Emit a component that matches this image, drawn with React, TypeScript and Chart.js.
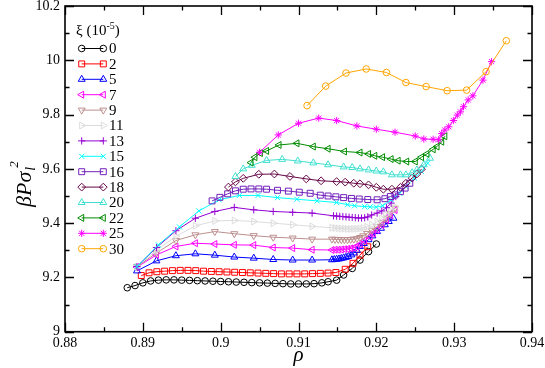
import React, { useEffect, useRef } from 'react';
import { Chart, registerables } from 'chart.js';

Chart.register(...registerables);

// ---- data ----
const xiLabels = ['0', '2', '5', '7', '9', '11', '13', '15', '16', '18', '20', '22', '25', '30'];

const gridX = [0.88925, 0.89175, 0.89425, 0.89675, 0.89925, 0.90175, 0.90425, 0.90675, 0.90925, 0.91175];

const xi0X = [0.888, 0.889, 0.890, 0.891, 0.892, 0.893, 0.894, 0.895, 0.896, 0.897, 0.898, 0.899, 0.900, 0.901, 0.902, 0.903, 0.904, 0.905, 0.906, 0.907, 0.908, 0.909, 0.910, 0.911, 0.912, 0.913, 0.9138, 0.9149, 0.9158, 0.9169, 0.9179, 0.919, 0.920];
const xi0Y = [9.162, 9.170, 9.180, 9.187, 9.190, 9.191, 9.191, 9.190, 9.189, 9.188, 9.187, 9.186, 9.185, 9.184, 9.183, 9.182, 9.181, 9.180, 9.179, 9.178, 9.177, 9.176, 9.176, 9.176, 9.177, 9.180, 9.184, 9.190, 9.209, 9.233, 9.264, 9.295, 9.323];

const xi2X = [0.8898, 0.8908, 0.8918, 0.8928, 0.8938, 0.8948, 0.8958, 0.8968, 0.8978, 0.8988, 0.8998, 0.9008, 0.9018, 0.9028, 0.9038, 0.9048, 0.9058, 0.9068, 0.9078, 0.9088, 0.9098, 0.9108, 0.9118, 0.9128, 0.9138, 0.9148, 0.916, 0.917, 0.9179, 0.9189];
const xi2Y = [9.207, 9.217, 9.221, 9.223, 9.225, 9.226, 9.226, 9.225, 9.223, 9.222, 9.221, 9.220, 9.219, 9.218, 9.217, 9.216, 9.215, 9.214, 9.213, 9.213, 9.213, 9.213, 9.214, 9.215, 9.216, 9.218, 9.230, 9.252, 9.282, 9.313];

const xi5X = [...gridX, 0.9143, 0.9146, 0.9149, 0.9152, 0.9155, 0.9158, 0.9161, 0.9164, 0.9168, 0.9171, 0.9175, 0.9179, 0.9184, 0.919, 0.9195, 0.9201, 0.9206, 0.9211, 0.9216, 0.9222];
const xi5Y = [9.224, 9.261, 9.28, 9.287, 9.282, 9.275, 9.271, 9.266, 9.264, 9.264, 9.265, 9.266, 9.267, 9.268, 9.27, 9.272, 9.274, 9.277, 9.283, 9.29, 9.30, 9.314, 9.325, 9.339, 9.353, 9.369, 9.381, 9.394, 9.406, 9.418];

const xi7X = [...gridX, 0.9143, 0.9147, 0.9151, 0.9155, 0.9159, 0.9163, 0.9167, 0.9171, 0.9175, 0.9179, 0.9185, 0.9192, 0.9196, 0.9201, 0.9207, 0.9213, 0.9218, 0.9224];
const xi7Y = [9.238, 9.283, 9.314, 9.326, 9.323, 9.32, 9.319, 9.31, 9.308, 9.302, 9.301, 9.302, 9.302, 9.303, 9.304, 9.305, 9.307, 9.309, 9.313, 9.322, 9.336, 9.35, 9.362, 9.375, 9.393, 9.411, 9.43, 9.448];

const xi9X = [...gridX, 0.9143, 0.9147, 0.9151, 0.9155, 0.9159, 0.9163, 0.9167, 0.9171, 0.9175, 0.9179, 0.9183, 0.9188, 0.9194, 0.9201, 0.9207, 0.9213, 0.9218, 0.9224];
const xi9Y = [9.24, 9.29, 9.336, 9.357, 9.369, 9.361, 9.354, 9.348, 9.345, 9.341, 9.341, 9.34, 9.34, 9.339, 9.339, 9.339, 9.34, 9.341, 9.343, 9.347, 9.353, 9.362, 9.374, 9.387, 9.402, 9.418, 9.436, 9.455];

const xi11X = [...gridX, 0.9143, 0.9147, 0.9151, 0.9155, 0.9159, 0.9163, 0.9167, 0.9171, 0.9175, 0.9179, 0.9183, 0.9188, 0.9194, 0.9201, 0.9207, 0.9212, 0.9218, 0.9224];
const xi11Y = [9.24, 9.30, 9.352, 9.39, 9.408, 9.41, 9.406, 9.40, 9.394, 9.388, 9.383, 9.382, 9.381, 9.38, 9.38, 9.379, 9.379, 9.379, 9.379, 9.38, 9.382, 9.386, 9.394, 9.405, 9.417, 9.43, 9.445, 9.46];

const xi13X = [...gridX, 0.9145, 0.9149, 0.9153, 0.9157, 0.9161, 0.9165, 0.9169, 0.9173, 0.9177, 0.9181, 0.9185, 0.9189, 0.9194, 0.9201, 0.9207, 0.9213, 0.9219, 0.9225];
const xi13Y = [9.24, 9.31, 9.372, 9.418, 9.443, 9.458, 9.449, 9.443, 9.44, 9.437, 9.427, 9.426, 9.425, 9.424, 9.423, 9.422, 9.421, 9.42, 9.419, 9.419, 9.42, 9.423, 9.43, 9.437, 9.445, 9.457, 9.474, 9.498];

const xi15X = [0.88925, 0.8920, 0.8947, 0.8972, 0.8998, 0.9024, 0.9048, 0.9073, 0.9098, 0.9124, 0.9149, 0.9163, 0.9172, 0.9185, 0.9192, 0.92, 0.9208, 0.9219, 0.923, 0.9238, 0.9249, 0.9258, 0.9266];
const xi15Y = [9.24, 9.32, 9.386, 9.445, 9.486, 9.502, 9.502, 9.494, 9.488, 9.482, 9.476, 9.468, 9.464, 9.461, 9.46, 9.459, 9.464, 9.486, 9.51, 9.535, 9.566, 9.59, 9.621];

const xi16X = [0.8989, 0.8999, 0.9009, 0.9019, 0.9029, 0.9039, 0.9049, 0.9059, 0.9073, 0.9087, 0.9101, 0.9115, 0.9128, 0.9138, 0.9148, 0.9158, 0.9168, 0.9178, 0.9189, 0.9201, 0.9211, 0.9218, 0.9224, 0.9231, 0.9237, 0.9243];
const xi16Y = [9.482, 9.495, 9.508, 9.519, 9.525, 9.526, 9.526, 9.525, 9.521, 9.518, 9.514, 9.51, 9.503, 9.50, 9.497, 9.494, 9.491, 9.489, 9.487, 9.486, 9.49, 9.498, 9.504, 9.516, 9.529, 9.547];

const xi18X = [0.9010, 0.9019, 0.9029, 0.9049, 0.9069, 0.9089, 0.911, 0.9129, 0.9149, 0.916, 0.9171, 0.9179, 0.919, 0.92, 0.9209, 0.922, 0.9231, 0.9238, 0.9246, 0.9252, 0.9258];
const xi18Y = [9.533, 9.552, 9.565, 9.58, 9.581, 9.572, 9.563, 9.556, 9.553, 9.551, 9.547, 9.545, 9.541, 9.532, 9.525, 9.525, 9.532, 9.547, 9.566, 9.581, 9.599];

const xi20X = [0.9019, 0.9029, 0.904, 0.9059, 0.9079, 0.9099, 0.9119, 0.9138, 0.9158, 0.9169, 0.9179, 0.919, 0.92, 0.9209, 0.922, 0.9231, 0.9238, 0.9246, 0.9252, 0.9261, 0.9269];
const xi20Y = [9.572, 9.60, 9.613, 9.631, 9.635, 9.629, 9.622, 9.615, 9.607, 9.605, 9.60, 9.596, 9.592, 9.589, 9.578, 9.578, 9.578, 9.586, 9.596, 9.615, 9.639];

const xi22X = [0.9039, 0.9044, 0.9051, 0.9059, 0.9075, 0.9098, 0.9119, 0.9138, 0.9159, 0.9179, 0.919, 0.9198, 0.9208, 0.9219, 0.9228, 0.9239, 0.925, 0.9258, 0.9265, 0.9273, 0.9278, 0.9284, 0.9288];
const xi22Y = [9.623, 9.643, 9.658, 9.666, 9.688, 9.694, 9.682, 9.674, 9.664, 9.66, 9.655, 9.648, 9.643, 9.636, 9.63, 9.627, 9.627, 9.643, 9.655, 9.672, 9.682, 9.70, 9.72];

const xi25X = [0.905, 0.9074, 0.91, 0.9126, 0.9149, 0.9175, 0.92, 0.9224, 0.925, 0.9261, 0.9273, 0.928, 0.9284, 0.9288, 0.9293, 0.9299, 0.9304, 0.9308, 0.9312, 0.9318, 0.9324, 0.9337, 0.9348];
const xi25Y = [9.661, 9.725, 9.768, 9.787, 9.778, 9.758, 9.746, 9.735, 9.721, 9.71, 9.709, 9.707, 9.73, 9.743, 9.755, 9.778, 9.798, 9.81, 9.829, 9.854, 9.869, 9.927, 9.995];

const xi30X = [0.9111, 0.9135, 0.9161, 0.9187, 0.9213, 0.9238, 0.9264, 0.9291, 0.9316, 0.9341, 0.9367];
const xi30Y = [9.833, 9.905, 9.953, 9.968, 9.955, 9.918, 9.903, 9.888, 9.89, 9.958, 10.072];

const seriesX = [xi0X, xi2X, xi5X, xi7X, xi9X, xi11X, xi13X, xi15X, xi16X, xi18X, xi20X, xi22X, xi25X, xi30X];
const seriesY = [xi0Y, xi2Y, xi5Y, xi7Y, xi9Y, xi11Y, xi13Y, xi15Y, xi16Y, xi18Y, xi20Y, xi22Y, xi25Y, xi30Y];

const xTickMin = 0.88, xTickMax = 0.94, xTickStep = 0.01;
const yTickMin = 9, yTickMax = 10.2, yTickStep = 0.2;

// ---- styles ----
const colors = ['#000000', '#ff0000', '#0000ff', '#ff00ff', '#bc8f8f', '#dcdcdc', '#9400d3', '#00ffff', '#7221bc', '#670748', '#40e0d0', '#008b00', '#ff00ff', '#ffa500'];
const styles = ['circle', 'rect', 'triangle', 'triangle', 'triangle', 'triangle', 'cross', 'crossRot', 'rect', 'rectRot', 'triangle', 'triangle', 'star', 'circle'];
const rotations = [0, 0, 0, 270, 180, 90, 0, 0, 0, 0, 0, 270, 0, 0];
const radii: Record<string, number> = { circle: 3.3, rect: 4.2, triangle: 4, cross: 3.6, crossRot: 3.6, rectRot: 3.9, star: 3.6 };

const FONT = '"Liberation Serif", "Times New Roman", serif';

function drawMarker(ctx: CanvasRenderingContext2D, style: string, r: number, rot: number, x: number, y: number) {
  ctx.beginPath();
  const rad = (rot * Math.PI) / 180;
  if (style === 'circle') {
    ctx.arc(x, y, r, 0, Math.PI * 2);
  } else if (style === 'rect') {
    const s = r * Math.SQRT1_2;
    ctx.rect(x - s, y - s, 2 * s, 2 * s);
  } else if (style === 'rectRot') {
    ctx.moveTo(x, y - r); ctx.lineTo(x + r, y); ctx.lineTo(x, y + r); ctx.lineTo(x - r, y); ctx.closePath();
  } else if (style === 'triangle') {
    for (let k = 0; k < 3; k++) {
      const a = rad + (k * 2 * Math.PI) / 3;
      const px = x + Math.sin(a) * r, py = y - Math.cos(a) * r;
      if (k === 0) ctx.moveTo(px, py); else ctx.lineTo(px, py);
    }
    ctx.closePath();
  } else {
    const plus = () => { ctx.moveTo(x, y - r); ctx.lineTo(x, y + r); ctx.moveTo(x - r, y); ctx.lineTo(x + r, y); };
    const xr = () => { const d = r * Math.SQRT1_2; ctx.moveTo(x - d, y - d); ctx.lineTo(x + d, y + d); ctx.moveTo(x - d, y + d); ctx.lineTo(x + d, y - d); };
    if (style === 'cross' || style === 'star') plus();
    if (style === 'crossRot' || style === 'star') xr();
  }
  ctx.stroke();
}

const fmt = (v: number) => parseFloat(Number(v).toFixed(2)).toString();

const decorPlugin = {
  id: 'decor',
  afterDraw(chart: any) {
    const ctx: CanvasRenderingContext2D = chart.ctx;
    const { left, right, top, bottom } = chart.chartArea;
    const xs = chart.scales.x, ys = chart.scales.y;
    ctx.save();
    ctx.strokeStyle = '#000';
    ctx.lineWidth = 1.3;
    ctx.beginPath();
    for (let i = 0; i <= Math.round((xTickMax - xTickMin) / xTickStep * 2); i++) {
      const v = xTickMin + (i * xTickStep) / 2;
      const px = Math.round(xs.getPixelForValue(v)) + 0.5;
      const len = i % 2 === 0 ? 9 : 4.5;
      ctx.moveTo(px, bottom); ctx.lineTo(px, bottom - len);
      ctx.moveTo(px, top); ctx.lineTo(px, top + len);
    }
    for (let i = 0; i <= Math.round((yTickMax - yTickMin) / yTickStep * 2); i++) {
      const v = yTickMin + (i * yTickStep) / 2;
      const py = Math.round(ys.getPixelForValue(v)) + 0.5;
      const len = i % 2 === 0 ? 9 : 4.5;
      ctx.moveTo(left, py); ctx.lineTo(left + len, py);
      ctx.moveTo(right, py); ctx.lineTo(right - len, py);
    }
    ctx.stroke();
    ctx.lineWidth = 1.6;
    ctx.strokeRect(left, top, right - left, bottom - top);

    // legend
    ctx.fillStyle = '#000';
    ctx.textBaseline = 'alphabetic';
    ctx.textAlign = 'left';
    ctx.font = `15px ${FONT}`;
    let tx = 76;
    const t1 = 'ξ (10';
    ctx.fillText(t1, tx, 35);
    tx += ctx.measureText(t1).width;
    ctx.font = `10px ${FONT}`;
    ctx.fillText('-5', tx, 29);
    tx += ctx.measureText('-5').width;
    ctx.font = `15px ${FONT}`;
    ctx.fillText(')', tx, 35);

    ctx.lineWidth = 1;
    for (let i = 0; i < xiLabels.length; i++) {
      const y = 48.5 + i * 15.4;
      ctx.strokeStyle = colors[i];
      ctx.beginPath();
      ctx.moveTo(81.7, y); ctx.lineTo(103.3, y);
      ctx.stroke();
      const r = radii[styles[i]];
      drawMarker(ctx, styles[i], r, rotations[i], 81.7, y);
      drawMarker(ctx, styles[i], r, rotations[i], 103.3, y);
      ctx.fillStyle = '#000';
      ctx.font = `15px ${FONT}`;
      ctx.textBaseline = 'middle';
      ctx.fillText(xiLabels[i], 109, y + 1);
    }

    // axis titles
    ctx.textBaseline = 'alphabetic';
    ctx.fillStyle = '#000';
    ctx.font = `italic 21px ${FONT}`;
    ctx.textAlign = 'center';
    ctx.fillText('ρ', (left + right) / 2, 361);
    ctx.textAlign = 'left';
    ctx.save();
    ctx.translate(31, 207);
    ctx.rotate(-Math.PI / 2);
    ctx.font = `italic 22px ${FONT}`;
    const main = 'βPσ';
    ctx.fillText(main, 0, 0);
    const w = ctx.measureText(main).width;
    ctx.font = `italic 14px ${FONT}`;
    ctx.fillText('l', w + 1, 4);
    ctx.font = `italic 13px ${FONT}`;
    ctx.fillText('2', w + 4, -13);
    ctx.restore();
    ctx.restore();
  },
};

export default function App() {
  const ref = useRef<HTMLCanvasElement | null>(null);
  useEffect(() => {
    if (!ref.current) return;
    const datasets = seriesX.map((xs, i) => ({
      label: xiLabels[i],
      data: xs.map((x, k) => ({ x, y: seriesY[i][k] })),
      borderColor: colors[i],
      backgroundColor: 'rgba(0,0,0,0)',
      borderWidth: 1,
      pointStyle: styles[i] as any,
      pointRotation: rotations[i],
      pointRadius: radii[styles[i]],
      pointBorderWidth: 1,
      pointBorderColor: colors[i],
      pointBackgroundColor: 'rgba(0,0,0,0)',
      tension: 0,
      fill: false,
      order: -i,
    }));
    const chart = new Chart(ref.current, {
      type: 'line',
      data: { datasets },
      plugins: [decorPlugin],
      options: {
        animation: false,
        responsive: false,
        devicePixelRatio: 1,
        events: [],
        layout: { padding: { left: 0, top: 6, right: 13, bottom: 0 } },
        plugins: { legend: { display: false }, tooltip: { enabled: false } },
        scales: {
          x: {
            type: 'linear',
            min: xTickMin,
            max: xTickMax,
            grid: { display: false, drawTicks: false },
            border: { display: false },
            ticks: {
              stepSize: xTickStep,
              autoSkip: false,
              maxRotation: 0,
              padding: 3,
              color: '#000',
              font: { family: FONT, size: 14 },
              callback: (v: any) => fmt(v),
            },
            afterFit: (s: any) => { s.height = 36.3; s.paddingLeft = 0; s.paddingRight = 0; },
          },
          y: {
            type: 'linear',
            min: yTickMin,
            max: yTickMax,
            grid: { display: false, drawTicks: false },
            border: { display: false },
            ticks: {
              stepSize: yTickStep,
              autoSkip: false,
              padding: 5,
              color: '#000',
              font: { family: FONT, size: 14 },
              callback: (v: any) => fmt(v),
            },
            afterFit: (s: any) => { s.width = 65; s.paddingTop = 0; s.paddingBottom = 0; },
          },
        },
      } as any,
    });
    return () => chart.destroy();
  }, []);
  return (
    <div style={{ position: 'fixed', left: 0, top: 0, width: 545, height: 368, background: '#fff' }}>
      <canvas ref={ref} width={545} height={368} style={{ display: 'block', width: 545, height: 368 }} />
    </div>
  );
}
